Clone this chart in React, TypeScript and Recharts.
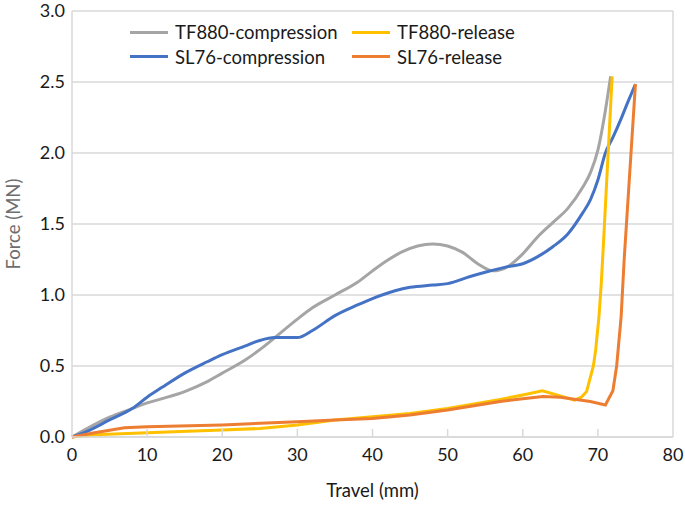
import React from 'react';
import {
  LineChart,
  Line,
  XAxis,
  YAxis,
  CartesianGrid,
  ReferenceLine
} from 'recharts';

// travel (mm) / force (MN) pairs
const tf880Compression = [
  { x: 0, y: 0 }, { x: 2, y: 0.06 }, { x: 5, y: 0.14 }, { x: 8, y: 0.2 },
  { x: 10, y: 0.24 }, { x: 12, y: 0.27 }, { x: 15, y: 0.32 }, { x: 18, y: 0.39 },
  { x: 20, y: 0.45 }, { x: 23, y: 0.54 }, { x: 25, y: 0.615 }, { x: 27, y: 0.7 },
  { x: 30, y: 0.83 }, { x: 32, y: 0.91 }, { x: 35, y: 1.0 }, { x: 38, y: 1.09 },
  { x: 40, y: 1.17 }, { x: 42, y: 1.245 }, { x: 44, y: 1.305 }, { x: 46, y: 1.345 },
  { x: 48, y: 1.36 }, { x: 50, y: 1.345 }, { x: 52, y: 1.3 }, { x: 54, y: 1.22 },
  { x: 56, y: 1.17 }, { x: 58, y: 1.2 }, { x: 60, y: 1.29 }, { x: 62, y: 1.41 },
  { x: 64, y: 1.51 }, { x: 66, y: 1.61 }, { x: 68, y: 1.76 }, { x: 69, y: 1.86 },
  { x: 70, y: 2.02 }, { x: 71, y: 2.3 }, { x: 71.7, y: 2.54 }
];

const sl76Compression = [
  { x: 0, y: 0 }, { x: 2, y: 0.04 }, { x: 5, y: 0.12 }, { x: 8, y: 0.2 },
  { x: 10, y: 0.28 }, { x: 12, y: 0.35 }, { x: 15, y: 0.45 }, { x: 18, y: 0.53 },
  { x: 20, y: 0.58 }, { x: 23, y: 0.64 }, { x: 25, y: 0.68 }, { x: 27, y: 0.7 },
  { x: 30, y: 0.7 }, { x: 32, y: 0.75 }, { x: 35, y: 0.855 }, { x: 38, y: 0.93 },
  { x: 40, y: 0.975 }, { x: 43, y: 1.03 }, { x: 45, y: 1.054 }, { x: 48, y: 1.07 },
  { x: 50, y: 1.08 }, { x: 53, y: 1.13 }, { x: 55, y: 1.16 }, { x: 58, y: 1.2 },
  { x: 60, y: 1.22 }, { x: 62, y: 1.27 }, { x: 64, y: 1.34 }, { x: 66, y: 1.43 },
  { x: 68, y: 1.58 }, { x: 69, y: 1.67 }, { x: 70, y: 1.81 }, { x: 71, y: 2.0 },
  { x: 72, y: 2.11 }, { x: 73, y: 2.23 }, { x: 74, y: 2.36 }, { x: 75, y: 2.485 }
];

const tf880Release = [
  { x: 0, y: 0 }, { x: 3, y: 0.015 }, { x: 10, y: 0.03 }, { x: 20, y: 0.05 },
  { x: 25, y: 0.06 }, { x: 30, y: 0.085 }, { x: 35, y: 0.12 }, { x: 40, y: 0.143 },
  { x: 45, y: 0.165 }, { x: 50, y: 0.2 }, { x: 57, y: 0.265 }, { x: 60, y: 0.296 },
  { x: 62.6, y: 0.326 }, { x: 65, y: 0.29 }, { x: 66.9, y: 0.26 }, { x: 67.8, y: 0.28 },
  { x: 68.5, y: 0.32 }, { x: 68.9, y: 0.4 }, { x: 69.4, y: 0.5 }, { x: 69.7, y: 0.61 },
  { x: 70.15, y: 0.85 }, { x: 70.45, y: 1.08 }, { x: 70.7, y: 1.32 }, { x: 71.9, y: 2.54 }
];

const sl76Release = [
  { x: 0, y: 0 }, { x: 3, y: 0.03 }, { x: 7, y: 0.065 }, { x: 10, y: 0.073 },
  { x: 20, y: 0.085 }, { x: 30, y: 0.108 }, { x: 35, y: 0.12 }, { x: 40, y: 0.13 },
  { x: 45, y: 0.155 }, { x: 50, y: 0.19 }, { x: 57, y: 0.25 }, { x: 60, y: 0.27 },
  { x: 62.7, y: 0.285 }, { x: 65, y: 0.28 }, { x: 69, y: 0.25 }, { x: 71, y: 0.225 },
  { x: 72, y: 0.326 }, { x: 72.5, y: 0.5 }, { x: 73.1, y: 0.85 }, { x: 73.5, y: 1.25 },
  { x: 75, y: 2.485 }
];

const xTicks = [0, 10, 20, 30, 40, 50, 60, 70, 80];
const yTicks = [0, 0.5, 1, 1.5, 2, 2.5, 3];

const legendRows = [
  [
    { name: 'TF880-compression', color: '#A5A5A5' },
    { name: 'TF880-release', color: '#FFC000' }
  ],
  [
    { name: 'SL76-compression', color: '#4472C4' },
    { name: 'SL76-release', color: '#ED7D31' }
  ]
];

const FONT = 'Lato, "Open Sans", sans-serif';

const XTick = (props: any) => {
  const { x, y, payload } = props;
  return (
    <g>
      {payload.value > 0 && payload.value < 80 && (
        <line x1={x} x2={x} y1={y} y2={y - 8} stroke="#d9d9d9" strokeWidth={1.5} />
      )}
      <text x={x} y={y + 24} textAnchor="middle" fill="#1a1a1a" fontSize={18} fontFamily={FONT}>
        {payload.value}
      </text>
    </g>
  );
};

// legend drawn as a plain overlay so it doesn't eat plot space
const LegendBox = () => (
  <div style={{ position: 'absolute', top: 20, left: 130, fontFamily: FONT, fontSize: 18.5, color: '#1a1a1a' }}>
    {legendRows.map((row, i) => (
      <div key={i} style={{ display: 'flex', height: 24.5, alignItems: 'center' }}>
        {row.map((item, j) => (
          <div key={j} style={{ display: 'flex', alignItems: 'center', width: j === 0 ? 222 : 180 }}>
            <span style={{ display: 'inline-block', width: 38, height: 3, background: item.color, marginRight: 7 }} />
            <span>{item.name}</span>
          </div>
        ))}
      </div>
    ))}
  </div>
);

export default function App() {
  return (
    <div style={{ position: 'absolute', left: 0, top: 0, width: 685, height: 506, background: '#fff' }}>
      <LineChart width={685} height={506} margin={{ top: 11, right: 12, left: 0, bottom: 0 }}>
        <CartesianGrid vertical={false} stroke="#d9d9d9" strokeWidth={1.5} />
        <XAxis
          type="number"
          dataKey="x"
          domain={[0, 80]}
          ticks={xTicks}
          height={69}
          stroke="#d9d9d9"
          strokeWidth={1.5}
          tickSize={0}
          tickMargin={0}
          tick={<XTick />}
          label={{
            content: (p: any) => (
              <text
                x={p.viewBox.x + p.viewBox.width / 2}
                y={p.viewBox.y + 60}
                textAnchor="middle"
                fill="#1a1a1a"
                fontSize={18.5}
                fontFamily={FONT}
              >
                Travel (mm)
              </text>
            )
          }}
        />
        <YAxis
          type="number"
          domain={[0, 3]}
          ticks={yTicks}
          width={72}
          stroke="#d9d9d9"
          strokeWidth={1.5}
          tickSize={0}
          tickMargin={7}
          tickFormatter={(v: number) => v.toFixed(1)}
          tick={{ fill: '#1a1a1a', fontSize: 18, fontFamily: FONT }}
          label={{
            content: (p: any) => {
              const cx = 13;
              const cy = p.viewBox.y + p.viewBox.height / 2;
              return (
                <text
                  x={cx}
                  y={cy}
                  transform={`rotate(-90 ${cx} ${cy})`}
                  textAnchor="middle"
                  dominantBaseline="central"
                  fill="#6e6e6e"
                  fontSize={18.5}
                  fontFamily={FONT}
                >
                  Force (MN)
                </text>
              );
            }
          }}
        />
        <ReferenceLine x={80} stroke="#d9d9d9" strokeWidth={1.5} />
        <Line data={tf880Compression} dataKey="y" name="TF880-compression" type="monotone"
          stroke="#A5A5A5" strokeWidth={3} dot={false} isAnimationActive={false} />
        <Line data={sl76Compression} dataKey="y" name="SL76-compression" type="monotone"
          stroke="#4472C4" strokeWidth={3} dot={false} isAnimationActive={false} />
        <Line data={tf880Release} dataKey="y" name="TF880-release" type="linear"
          stroke="#FFC000" strokeWidth={3} dot={false} isAnimationActive={false} />
        <Line data={sl76Release} dataKey="y" name="SL76-release" type="linear"
          stroke="#ED7D31" strokeWidth={3} dot={false} isAnimationActive={false} />
      </LineChart>
      <LegendBox />
    </div>
  );
}
